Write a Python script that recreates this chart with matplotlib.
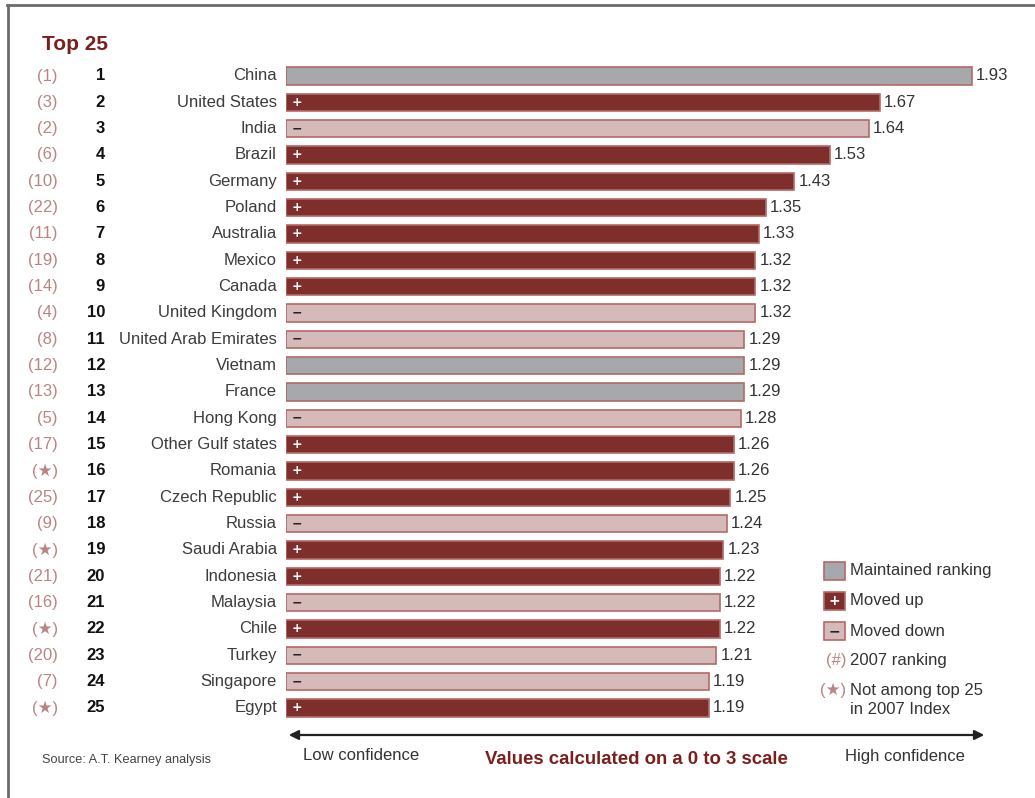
import matplotlib
matplotlib.use("Agg")
import matplotlib.pyplot as plt
from matplotlib.patches import Rectangle, FancyArrowPatch
from matplotlib.lines import Line2D
from matplotlib.transforms import blended_transform_factory
from matplotlib import font_manager

countries = ["China", "United States", "India", "Brazil", "Germany", "Poland", "Australia",
             "Mexico", "Canada", "United Kingdom", "United Arab Emirates", "Vietnam", "France",
             "Hong Kong", "Other Gulf states", "Romania", "Czech Republic", "Russia",
             "Saudi Arabia", "Indonesia", "Malaysia", "Chile", "Turkey", "Singapore", "Egypt"]
ranks = list(range(1, 26))
prev_ranks = ["1", "3", "2", "6", "10", "22", "11", "19", "14", "4", "8", "12", "13", "5",
              "17", "★", "25", "9", "★", "21", "16", "★", "20", "7", "★"]
values = [1.93, 1.67, 1.64, 1.53, 1.43, 1.35, 1.33, 1.32, 1.32, 1.32, 1.29, 1.29, 1.29,
          1.28, 1.26, 1.26, 1.25, 1.24, 1.23, 1.22, 1.22, 1.22, 1.21, 1.19, 1.19]
status = ["same", "up", "down", "up", "up", "up", "up", "up", "up", "down", "down", "same",
          "same", "down", "up", "up", "up", "down", "up", "up", "down", "up", "down", "down", "up"]

avail = {f.name for f in font_manager.fontManager.ttflist}
fam = [f for f in ["Liberation Sans Narrow", "Liberation Sans", "DejaVu Sans"] if f in avail]
plt.rcParams['font.family'] = fam

W, H = 1035, 798
fig = plt.figure(figsize=(W / 100, H / 100), dpi=100)
fig.patch.set_facecolor("white")

fill = {"same": "#a7a8ab", "up": "#7e2f2c", "down": "#d6b9b9"}
edge = "#b36a68"
red_txt = "#7a1f1c"
prev_col = "#b88583"
name_col = "#3c3c3c"

# bar axes geometry (pixels)
x0, x1 = 286, 992
px_per_unit = 355.4
row0, step = 76, 26.33
top_px, bot_px = 60, 724
ax = fig.add_axes([x0 / W, 1 - bot_px / H, (x1 - x0) / W, (bot_px - top_px) / H])
ax.set_xlim(0, (x1 - x0) / px_per_unit)
ax.set_ylim((bot_px - row0) / step, -(row0 - top_px) / step)
ax.axis("off")

ys = list(range(len(countries)))
ax.barh(ys, values, height=0.66, color=[fill[s] for s in status],
        edgecolor=edge, linewidth=1.2)

for y, v, s in zip(ys, values, status):
    ax.text(v + 0.012, y, f"{v:.2f}", va="center", ha="left", fontsize=12, color="#333333")
    if s == "up":
        ax.text(0.03, y, "+", va="center", ha="center", fontsize=9, color="white",
                fontweight="bold", family="DejaVu Sans")
    elif s == "down":
        ax.text(0.03, y, "−", va="center", ha="center", fontsize=9, color="#222222",
                fontweight="bold", family="DejaVu Sans")

tr = blended_transform_factory(fig.transFigure, ax.transData)
for y, c, r, p in zip(ys, countries, ranks, prev_ranks):
    ax.text(277 / W, y, c, transform=tr, ha="right", va="center", fontsize=12, color=name_col)
    ax.text(105 / W, y, str(r), transform=tr, ha="right", va="center", fontsize=12,
            color="#111111", fontweight="bold")
    ax.text(58 / W, y, f"({p})", transform=tr, ha="right", va="center", fontsize=12,
            color=prev_col, family=fam + ["DejaVu Sans"])

# title
fig.text(42 / W, 1 - 45 / H, "Top 25", ha="left", va="center", fontsize=15,
         fontweight="bold", color=red_txt)

# border
fig.add_artist(Line2D([7 / W, 1], [1 - 5 / H, 1 - 5 / H], color="#6b6b6b", lw=2.0,
                      transform=fig.transFigure))
fig.add_artist(Line2D([8 / W, 8 / W], [0, 1 - 5 / H], color="#6b6b6b", lw=2.0,
                      transform=fig.transFigure))

# arrow
fig.add_artist(FancyArrowPatch((286 / W, 1 - 735 / H), (987 / W, 1 - 735 / H),
                               transform=fig.transFigure, arrowstyle="<|-|>",
                               mutation_scale=14, color="#222222", lw=1.6))
fig.text(303 / W, 1 - 756 / H, "Low confidence", ha="left", va="center", fontsize=12, color="#333333")
fig.text(965 / W, 1 - 756 / H, "High confidence", ha="right", va="center", fontsize=12, color="#333333")
fig.text(636 / W, 1 - 760 / H, "Values calculated on a 0 to 3 scale", ha="center", va="center",
         fontsize=13.4, fontweight="bold", color=red_txt)
fig.text(42 / W, 1 - 760 / H, "Source: A.T. Kearney analysis", ha="left", va="center",
         fontsize=9.2, color="#444444")

# legend
leg = [("same", "Maintained ranking", 571), ("up", "Moved up", 601), ("down", "Moved down", 631)]
for s, lab, yp in leg:
    fig.add_artist(Rectangle((824 / W, 1 - (yp + 9) / H), 21 / W, 18 / H, facecolor=fill[s],
                             edgecolor=edge, lw=1.2, transform=fig.transFigure))
    if s == "up":
        fig.text(834.5 / W, 1 - yp / H, "+", ha="center", va="center", fontsize=10,
                 color="white", fontweight="bold", family="DejaVu Sans")
    elif s == "down":
        fig.text(834.5 / W, 1 - yp / H, "−", ha="center", va="center", fontsize=10,
                 color="#222222", fontweight="bold", family="DejaVu Sans")
    fig.text(850 / W, 1 - yp / H, lab, ha="left", va="center", fontsize=12, color="#333333")

fig.text(846 / W, 1 - 661 / H, "(#)", ha="right", va="center", fontsize=12, color=prev_col)
fig.text(850 / W, 1 - 661 / H, "2007 ranking", ha="left", va="center", fontsize=12, color="#333333")
fig.text(846 / W, 1 - 690 / H, "(★)", ha="right", va="center", fontsize=12, color=prev_col,
         family=fam + ["DejaVu Sans"])
fig.text(850 / W, 1 - 690 / H, "Not among top 25", ha="left", va="center", fontsize=12, color="#333333")
fig.text(850 / W, 1 - 710 / H, "in 2007 Index", ha="left", va="center", fontsize=12, color="#333333")

fig.savefig("out.png", dpi=100, facecolor="white")
